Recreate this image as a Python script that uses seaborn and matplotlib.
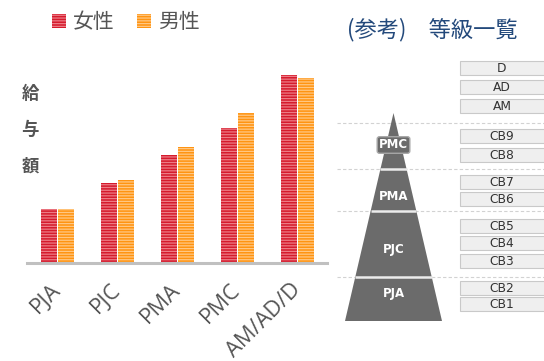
import matplotlib
matplotlib.use("Agg")
import matplotlib.pyplot as plt
from matplotlib.patches import Polygon, Rectangle
from matplotlib.font_manager import FontProperties
import seaborn as sns
import pandas as pd

# ---------------- data ----------------
grades = ["PJA", "PJC", "PMA", "PMC", "AM/AD/D"]
female = [54, 80, 108, 135, 188]
male = [54, 83, 116, 150, 185]
sexes = ["女性", "男性"]
ylabel_text = "給\n与\n額"
title_text = "(参考)　等級一覧"
tiers = ["PMC", "PMA", "PJC", "PJA"]
grade_boxes = ["D", "AD", "AM", "CB9", "CB8", "CB7", "CB6", "CB5", "CB4", "CB3", "CB2", "CB1"]

# ---------------- style ----------------
sns.set_style("white")
plt.rcParams["font.family"] = ["Open Sans", "Noto Sans CJK JP", "DejaVu Sans"]
plt.rcParams["hatch.linewidth"] = 0.9

RED = "#d51a2c"
ORANGE = "#ff9411"
RED_STRIPE = "#ec7c86"
ORANGE_STRIPE = "#ffc783"
GRAY_TXT = "#555555"

W, H = 544, 361
fig = plt.figure(figsize=(W / 100, H / 100), dpi=100)

# ---------------- bar chart ----------------
base_y, top_y = 263, 60
ax = fig.add_axes([27 / W, (H - base_y) / H, 300 / W, (base_y - top_y) / H])
df = pd.DataFrame({
    "grade": grades * 2,
    "value": female + male,
    "sex": [sexes[0]] * len(grades) + [sexes[1]] * len(grades),
})
sns.barplot(data=df, x="grade", y="value", hue="sex", hue_order=sexes,
            palette=[RED, ORANGE], saturation=1, width=0.58, gap=0.1,
            legend=False, ax=ax, zorder=2)
for cont, stripe in zip(ax.containers, [RED_STRIPE, ORANGE_STRIPE]):
    for p in cont:
        p.set_hatch("------")
        p.set_edgecolor(stripe)
        p.set_linewidth(0)

ax.set_xlim(-0.51, 4.49)
ax.set_ylim(0, base_y - top_y)
for s in ["top", "right", "left"]:
    ax.spines[s].set_visible(False)
ax.spines["bottom"].set_color("#c0c0c0")
ax.spines["bottom"].set_linewidth(2.2)
ax.spines["bottom"].set_zorder(3)
ax.set_yticks([])
ax.set_xlabel("")
ax.tick_params(axis="x", length=0, pad=17)
ax.set_xticks(range(len(grades)))
ax.set_xticklabels(grades, rotation=45, ha="right", va="center",
                   rotation_mode="anchor", fontsize=15.8, color=GRAY_TXT)

ax.set_ylabel(ylabel_text, rotation=0, linespacing=2.3, fontsize=12.5,
              fontweight="bold", color=GRAY_TXT, ha="center", va="center",
              family=["Noto Sans CJK JP"])
ax.yaxis.set_label_coords(0.01, (base_y - 130) / (base_y - top_y))

leg = fig.legend(handles=list(ax.containers), labels=sexes, loc="upper left",
                 bbox_to_anchor=(52 / W, 1 - 11 / H), ncol=2, frameon=False,
                 borderpad=0, borderaxespad=0, handlelength=0.67,
                 handleheight=0.67, handletextpad=0.34, columnspacing=1.06,
                 prop=FontProperties(family="Noto Sans CJK JP", size=15))
for t in leg.get_texts():
    t.set_color(GRAY_TXT)

# ---------------- grade diagram ----------------
ax2 = fig.add_axes([330 / W, 0, (W - 330) / W, 1])
ax2.set_xlim(330, W)
ax2.set_ylim(H, 0)
ax2.axis("off")

ax2.text(347, 30, title_text, ha="left", va="center", fontsize=16,
         color="#23497b", family=["Noto Sans CJK JP"])

apex = (393.5, 113)
base_l, base_r, base_yy = 345, 442, 321
ax2.add_patch(Polygon([apex, (base_l, base_yy), (base_r, base_yy)],
                      closed=True, facecolor="#6b6b6b", edgecolor="none", zorder=2))

def half_width(y):
    return (y - apex[1]) / (base_yy - apex[1]) * (base_r - base_l) / 2

dash_ys = [123, 169, 211, 277]
for y in dash_ys:
    ax2.plot([337, W], [y, y], color="#d2d2d2", lw=0.8, ls=(0, (3, 2)), zorder=1)
for y in dash_ys[1:]:
    hw = half_width(y)
    ax2.plot([apex[0] - hw, apex[0] + hw], [y, y], color="#ececec", lw=1.8,
             solid_capstyle="butt", zorder=3)

tier_label_y = [145, 196, 249, 294]
for i, (name, y) in enumerate(zip(tiers, tier_label_y)):
    kw = {}
    if i == 0:
        kw["bbox"] = dict(boxstyle="round,pad=0.15,rounding_size=0.2",
                          facecolor="#6b6b6b", edgecolor="#a8a8a8", lw=1.0)
    ax2.text(apex[0], y, name, ha="center", va="center", color="white",
             fontsize=8.5, fontweight="bold", family=["DejaVu Sans"], zorder=4, **kw)

box_tops = [61, 80, 99, 129, 148, 175, 192, 219, 236, 254, 281, 297]
box_h = 14
for name, y in zip(grade_boxes, box_tops):
    ax2.add_patch(Rectangle((460, y), 90, box_h, facecolor="#efefef",
                            edgecolor="#c9c9c9", lw=0.8, zorder=2))
    ax2.text(502, y + box_h / 2 + 0.5, name, ha="center", va="center",
             fontsize=8.8, color="#333333", family=["DejaVu Sans"], zorder=3)

fig.savefig("out.png", dpi=100)
